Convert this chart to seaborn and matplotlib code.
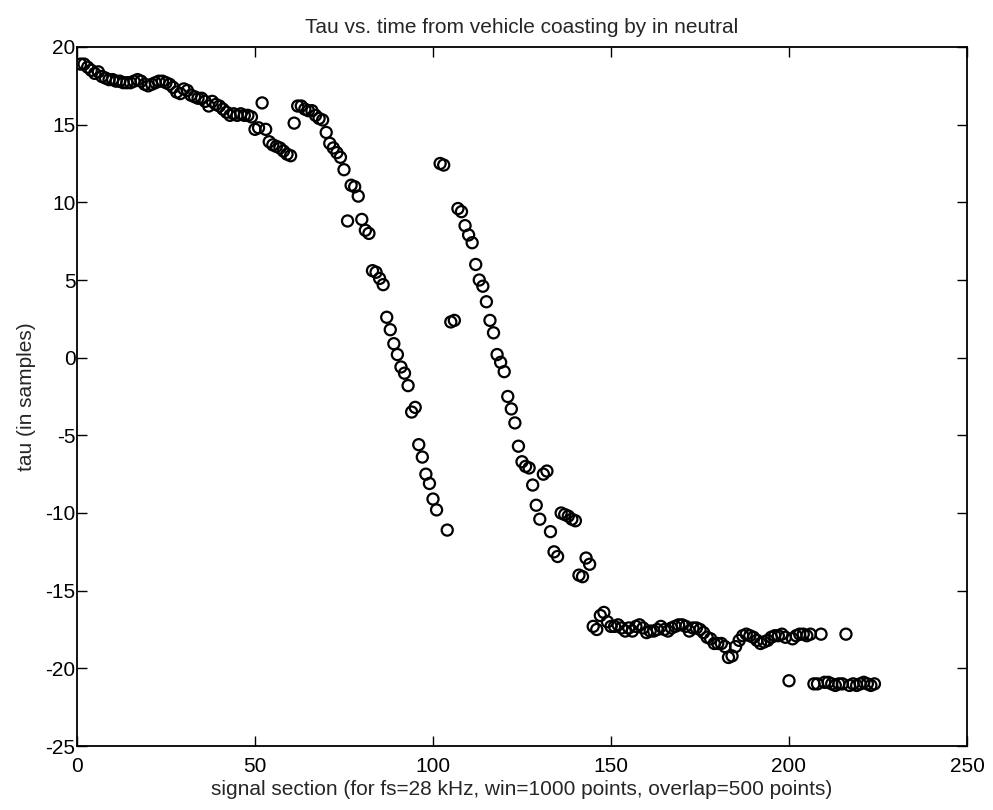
import matplotlib
matplotlib.use("Agg")
import matplotlib.pyplot as plt
import seaborn as sns
import pandas as pd

# signal section index and estimated delay tau (in samples)
section = list(range(1, 225))

tau_head = [
    18.9, 18.9, 18.7, 18.5, 18.3, 18.4, 18.1, 18.0, 17.9, 17.9,
    17.8, 17.8, 17.7, 17.7, 17.7, 17.8, 17.9, 17.8, 17.6, 17.5,
    17.6, 17.7, 17.8, 17.8, 17.7, 17.6, 17.4, 17.1, 17.0, 17.3,
    17.2, 16.9, 16.8, 16.7, 16.7, 16.5, 16.2, 16.5, 16.3, 16.2,
    16.0, 15.8, 15.6, 15.7, 15.6, 15.7, 15.6, 15.6, 15.5, 14.7,
    14.8, 16.4, 14.7, 13.9, 13.7, 13.6, 13.5, 13.3, 13.1, 13.0,
    15.1, 16.2, 16.2, 16.0, 15.9, 15.9, 15.6, 15.4, 15.3, 14.5,
    13.8, 13.5, 13.2, 12.9, 12.1, 8.8, 11.1, 11.0, 10.4, 8.9,
    8.2, 8.0, 5.6, 5.5, 5.1, 4.7, 2.6, 1.8, 0.9, 0.2,
    -0.6, -1.0, -1.8, -3.5, -3.2, -5.6, -6.4, -7.5, -8.1, -9.1,
    -9.8, 12.5, 12.4, -11.1, 2.3, 2.4, 9.6, 9.4, 8.5, 7.9,
    7.4, 6.0, 5.0, 4.6, 3.6, 2.4, 1.6, 0.2, -0.3, -0.9,
    -2.5, -3.3, -4.2, -5.7, -6.7, -7.0, -7.1, -8.2, -9.5, -10.4,
    -7.5, -7.3, -11.2, -12.5, -12.8, -10.0, -10.1, -10.2, -10.4, -10.5,
    -14.0, -14.1, -12.9, -13.3, -17.3, -17.5, -16.6, -16.4,
]

tau_plateau = [
    -17.0, -17.3, -17.3, -17.2, -17.4, -17.6, -17.4, -17.6, -17.3, -17.2,
    -17.4, -17.7, -17.6, -17.6, -17.5, -17.3, -17.5, -17.6, -17.4, -17.3,
    -17.2, -17.2, -17.3, -17.6, -17.4, -17.4, -17.5, -17.7, -18.0, -18.1,
    -18.4, -18.4, -18.4, -18.6, -19.3, -19.2, -18.6, -18.2, -17.9, -17.8,
    -17.9, -18.0, -18.2, -18.4, -18.3, -18.2, -18.0, -17.9, -17.9, -17.8,
    -18.0,
]

tau_tail = [
    -20.8, -18.1, -17.9, -17.8, -17.8, -17.9, -17.8, -21.0, -21.0, -17.8,
    -20.9, -20.9, -21.0, -21.1, -21.0, -21.0, -17.8, -21.1, -21.0, -21.1,
    -21.0, -20.9, -21.0, -21.1, -21.0,
]

tau = tau_head + tau_plateau + tau_tail
df = pd.DataFrame({"section": section[:len(tau)], "tau": tau})

x_ticks = [0, 50, 100, 150, 200, 250]
y_ticks = [-25, -20, -15, -10, -5, 0, 5, 10, 15, 20]

sns.set_style("ticks")
plt.rcParams["font.family"] = ["Liberation Sans", "DejaVu Sans"]
plt.rcParams["axes.unicode_minus"] = False

fig = plt.figure(figsize=(9.93, 8.10), dpi=100)
ax = fig.add_axes([77 / 993, 64 / 810, 890 / 993, 699 / 810])

sns.scatterplot(data=df, x="section", y="tau", ax=ax, marker="o", s=64,
                fc="none", ec="black", linewidth=1.6, legend=False)

ax.set_xlim(0, 250)
ax.set_ylim(-25, 20)
ax.set_xticks(x_ticks)
ax.set_yticks(y_ticks)
ax.tick_params(direction="in", length=7, width=1.0, top=True, right=True,
               labelsize=15, colors="black")
ax.tick_params(axis="x", pad=8)
ax.tick_params(axis="y", pad=1)
for sp in ax.spines.values():
    sp.set_visible(True)
    sp.set_linewidth(1.3)
    sp.set_color("black")

ax.set_title("Tau vs. time from vehicle coasting by in neutral", fontsize=15, pad=10)
ax.set_xlabel("signal section (for fs=28 kHz, win=1000 points, overlap=500 points)",
              fontsize=15, labelpad=3)
ax.set_ylabel("tau (in samples)", fontsize=15, labelpad=7)

fig.savefig("out.png", dpi=100, facecolor="white")
